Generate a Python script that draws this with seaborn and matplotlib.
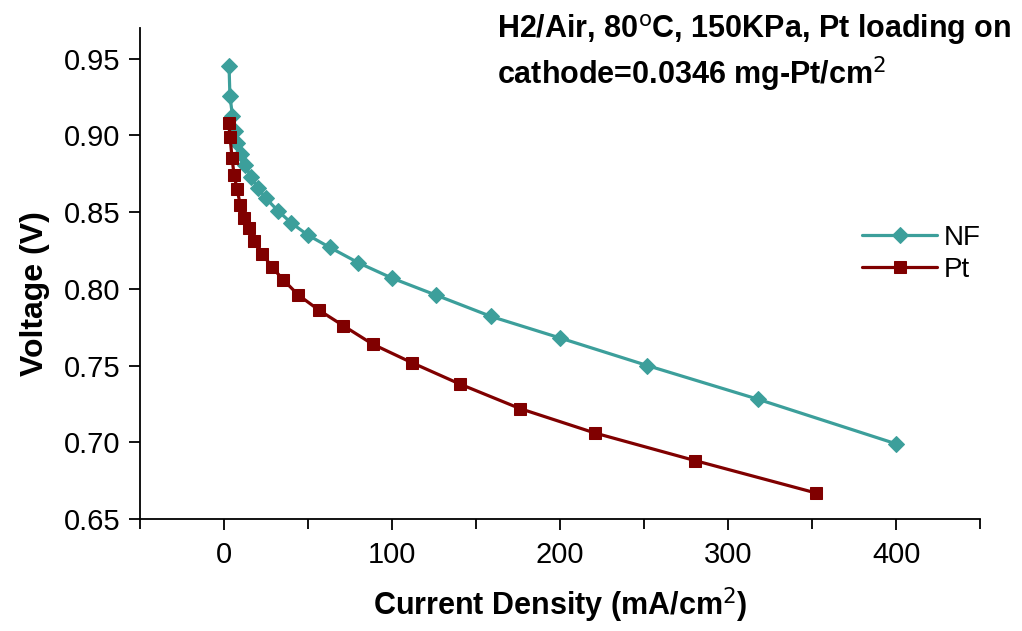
import pandas as pd
import matplotlib
matplotlib.use('Agg')
import matplotlib.pyplot as plt
import seaborn as sns
from matplotlib.ticker import MultipleLocator

# current density (mA/cm2) and voltage (V)
nf_current = [3, 3.5, 5, 6.3, 8, 10, 12.6, 16, 20, 25, 32, 40, 50, 63, 80, 100,
              126, 159, 200, 252, 318, 400]
nf_voltage = [0.945, 0.926, 0.913, 0.903, 0.895, 0.888, 0.881, 0.873, 0.866, 0.859,
              0.851, 0.843, 0.835, 0.827, 0.817, 0.807, 0.796, 0.782, 0.768, 0.750,
              0.728, 0.699]
pt_current = [3, 3.6, 4.8, 6, 7.8, 9.6, 11.9, 14.9, 17.9, 22.7, 28.7, 35.2, 44.2,
              56.7, 71, 88.4, 111.6, 140.3, 176.1, 220.9, 280.6, 352.2]
pt_voltage = [0.908, 0.899, 0.885, 0.874, 0.865, 0.855, 0.846, 0.840, 0.831, 0.823,
              0.814, 0.806, 0.796, 0.786, 0.776, 0.764, 0.752, 0.738, 0.722, 0.706,
              0.688, 0.667]
series = ['NF', 'Pt']

df = pd.concat([
    pd.DataFrame({'current': nf_current, 'voltage': nf_voltage, 'sample': 'NF'}),
    pd.DataFrame({'current': pt_current, 'voltage': pt_voltage, 'sample': 'Pt'}),
])

sns.set_style('ticks')
plt.rcParams['font.family'] = ['Liberation Sans', 'DejaVu Sans']
plt.rcParams['text.color'] = 'black'
plt.rcParams['axes.labelcolor'] = 'black'
plt.rcParams['xtick.color'] = 'black'
plt.rcParams['ytick.color'] = 'black'

fig = plt.figure(figsize=(10.22, 6.31), dpi=100)
ax = fig.add_axes([0.137, 0.1775, 0.822, 0.778])

colors = {'NF': '#3c9f9b', 'Pt': '#800000'}
markers = {'NF': 'D', 'Pt': 's'}
sizes = {'NF': 8, 'Pt': 8.5}
for s in series:
    sns.lineplot(data=df[df['sample'] == s], x='current', y='voltage', sort=False,
                 color=colors[s], marker=markers[s], markersize=sizes[s],
                 markeredgecolor=colors[s], linewidth=2.3, label=s, ax=ax)

ax.set_xlim(-50, 450)
ax.set_ylim(0.65, 0.97)
ax.xaxis.set_major_locator(MultipleLocator(100))
ax.xaxis.set_minor_locator(MultipleLocator(50))
ax.yaxis.set_major_locator(MultipleLocator(0.05))
ax.yaxis.set_major_formatter(matplotlib.ticker.FormatStrFormatter('%.2f'))
ax.tick_params(axis='both', which='major', length=8, width=1.3,
               direction='out', color='black')
ax.tick_params(axis='x', which='minor', length=7, width=1.3, direction='out')
ax.tick_params(axis='x', labelsize=21, pad=8)
ax.tick_params(axis='y', labelsize=21, pad=6)
for side in ['top', 'right']:
    ax.spines[side].set_visible(False)
for side in ['left', 'bottom']:
    ax.spines[side].set_linewidth(1.3)
    ax.spines[side].set_color('black')

ax.set_xlabel('Current Density (mA/cm$^2$)', fontsize=22, fontweight='bold', labelpad=12)
ax.set_ylabel('Voltage (V)', fontsize=23, fontweight='bold', labelpad=10)
ax.yaxis.label.set_y(0.46)

leg = ax.legend(loc='center left', bbox_to_anchor=(0.83, 0.54), frameon=False,
                fontsize=20, handlelength=2.7, handletextpad=0.25, labelspacing=0.2)

fig.text(0.486, 0.953, 'H2/Air, 80$^{\\mathrm{o}}$C, 150KPa, Pt loading on',
         fontsize=22, fontweight='bold', va='center', ha='left')
fig.text(0.486, 0.882, 'cathode=0.0346 mg-Pt/cm$^{\\mathrm{2}}$',
         fontsize=22, fontweight='bold', va='center', ha='left')

fig.savefig('out.png', dpi=100)
